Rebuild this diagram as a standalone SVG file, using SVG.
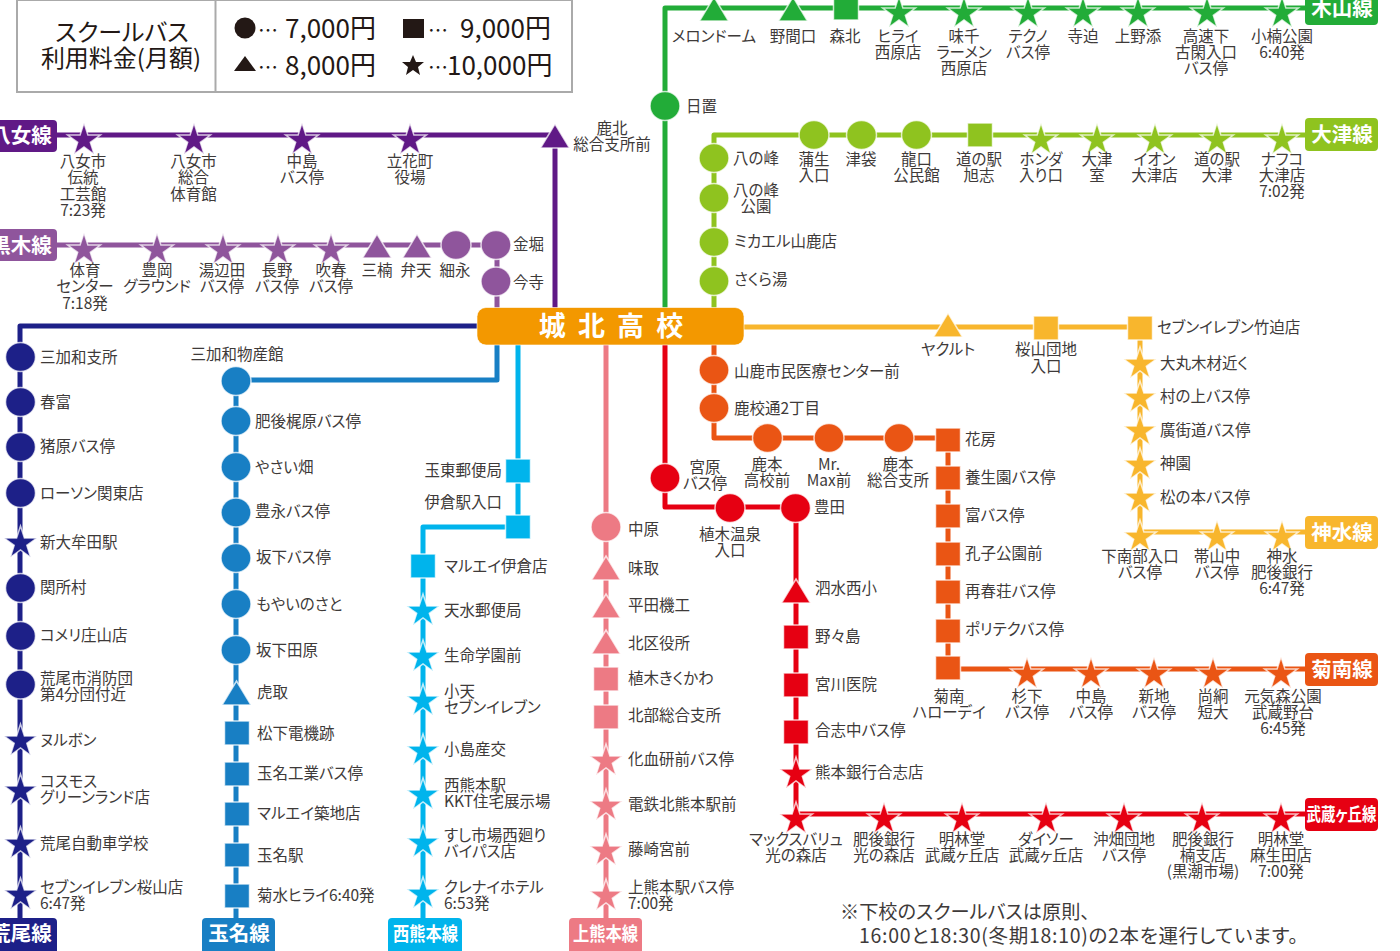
<svg xmlns="http://www.w3.org/2000/svg" width="1400" height="951" viewBox="0 0 1400 951">
<style>
text{font-family:"Noto Sans CJK JP","Noto Sans",sans-serif;font-feature-settings:"palt";}
.t,.c,.e{font-size:15.5px;fill:#3e3a39;}
.c{text-anchor:middle;}
.e{text-anchor:end;}
.k{fill:#231815;font-size:26px;}
.d{fill:#231815;font-size:20px;}
.h{fill:#231815;font-size:24px;text-anchor:middle;}
.w{fill:#fff;font-weight:700;font-size:20.5px;text-anchor:middle;}
.n{fill:#3e3a39;font-size:19.2px;}
.l{fill:none;stroke-width:5;stroke-linejoin:round;}
.m{stroke:#fff;stroke-width:1.5;stroke-opacity:.75;}
.pu{fill:#601986}.pl{fill:#8f559c}.gr{fill:#22ac38}.yg{fill:#8fc31f}.ye{fill:#f8b62d}.or{fill:#ea5514}.re{fill:#e60012}.pk{fill:#ed7a84}.cy{fill:#00b4ec}.bl{fill:#187fc4}.na{fill:#1d2088}
</style>
<defs>
<polygon id="st" class="m" points="0,-12 3.9,0 16.4,0 6.3,7.4 10.1,19.3 0,12 -10.1,19.3 -6.3,7.4 -16.4,0 -3.9,0"/>
<polygon id="tr" class="m" points="0,-11 14.5,13 -14.5,13"/>
<rect id="sq" class="m" x="-12.5" y="-12" width="25" height="24"/>
<ellipse id="ci" class="m" rx="15" ry="14.5"/>
</defs>

<g id="legend">
<rect x="17" y="0" width="555" height="92" fill="#fff" stroke="#aaa" stroke-width="2"/>
<line x1="215.500" y1="0" x2="215.500" y2="92" stroke="#aaa" stroke-width="2"/>
<text class="h" x="122" y="41">スクールバス</text>
<text class="h" x="121" y="67">利用料金(月額)</text>
<ellipse cx="245" cy="28" rx="10.500" ry="10.500" fill="#231815"/>
<text class="d" x="258" y="38">…</text>
<text class="k" x="285" y="38">7,000円</text>
<rect x="403" y="19" width="21" height="19" fill="#231815"/>
<text class="d" x="428" y="38">…</text>
<text class="k" x="460" y="38">9,000円</text>
<polygon points="245,56 256,71 234,71" fill="#231815"/>
<text class="d" x="258" y="75">…</text>
<text class="k" x="285" y="75">8,000円</text>
<polygon points="413,55 416,62 424,62 418,67 420,75 413,70 406,75 408,67 402,62 410,62" fill="#231815"/>
<text class="d" x="428" y="75">…</text>
<text class="k" x="447" y="75">10,000円</text>
</g>

<g id="connectors">
<path class="l" stroke="#601986" d="M0,135H555V310"/>
<path class="l" stroke="#8f559c" d="M0,245H497V310"/>
<path class="l" stroke="#22ac38" d="M665,310V8H1310"/>
<path class="l" stroke="#8fc31f" d="M714,310V135H1310"/>
<path class="l" stroke="#f8b62d" d="M740,327H1140V532H1310"/>
<path class="l" stroke="#ea5514" d="M714,340V438H948V669H1310"/>
<path class="l" stroke="#e60012" d="M665,340V507H796V814H1310"/>
<path class="l" stroke="#ed7a84" d="M606,340V925"/>
<path class="l" stroke="#00b4ec" d="M518,340V527H423V925"/>
<path class="l" stroke="#187fc4" d="M497,340V380H236V925"/>
<path class="l" stroke="#1d2088" d="M480,326H20V925"/>
</g>

<g id="school"><rect x="477" y="307.500" width="267" height="37.500" rx="9" fill="#f39800" stroke="#fff" stroke-opacity=".6"/><text class="w" x="612.500" y="336" style="font-size:27px;letter-spacing:3px">城 北 高 校</text></g>

<g id="line-yame"><path class="pu" d="M-5,120H53a4,4 0 0 1 4,4V148a4,4 0 0 1 -4,4H-5Z"/><text class="w" x="21" y="142.500">八女線</text></g>
<g id="line-kuroki"><path class="pl" d="M-5,229H53a4,4 0 0 1 4,4V257a4,4 0 0 1 -4,4H-5Z"/><text class="w" x="21" y="252.500">黒木線</text></g>
<g id="line-kiyama"><path class="gr" d="M1305,-8H1378V21a4,4 0 0 1 -4,4H1309a4,4 0 0 1 -4,-4Z"/><text class="w" x="1342" y="16">木山線</text></g>
<g id="line-ozu"><rect class="yg" x="1305" y="118" width="73" height="33" rx="4"/><text class="w" x="1342" y="142">大津線</text></g>
<g id="line-kamisui"><rect class="ye" x="1305" y="516" width="73" height="33" rx="4"/><text class="w" x="1342" y="540">神水線</text></g>
<g id="line-kikunan"><rect class="or" x="1305" y="653" width="73" height="33" rx="4"/><text class="w" x="1342" y="677">菊南線</text></g>
<g id="line-musashi"><rect class="re" x="1305" y="798" width="73" height="33" rx="4"/><text class="w" x="1341.500" y="821" style="font-size:18px" textLength="70" lengthAdjust="spacingAndGlyphs">武蔵ヶ丘線</text></g>
<g id="line-arao"><path class="na" d="M-5,918H53a4,4 0 0 1 4,4V951H-5Z"/><text class="w" x="21" y="941">荒尾線</text></g>
<g id="line-tamana"><path class="bl" d="M206,918H271a4,4 0 0 1 4,4V951H202V922a4,4 0 0 1 4,-4Z"/><text class="w" x="239" y="941">玉名線</text></g>
<g id="line-nishikuma"><path class="cy" d="M392,918H458a4,4 0 0 1 4,4V951H388V922a4,4 0 0 1 4,-4Z"/><text class="w" x="425.500" y="941" style="font-size:19px" textLength="65" lengthAdjust="spacingAndGlyphs">西熊本線</text></g>
<g id="line-kamikuma"><path class="pk" d="M573,918H638a4,4 0 0 1 4,4V951H569V922a4,4 0 0 1 4,-4Z"/><text class="w" x="605.500" y="941" style="font-size:19px" textLength="65" lengthAdjust="spacingAndGlyphs">上熊本線</text></g>

<g id="y1"><use class="pu" href="#st" x="84" y="135"/><text class="c" x="83" y="167">八女市<tspan x="83" dy="16">伝統</tspan><tspan x="83" dy="17">工芸館</tspan><tspan x="83" dy="16">7:23発</tspan></text></g>
<g id="y2"><use class="pu" href="#st" x="194" y="135"/><text class="c" x="193.500" y="167">八女市<tspan x="193.500" dy="16">総合</tspan><tspan x="193.500" dy="17">体育館</tspan></text></g>
<g id="y3"><use class="pu" href="#st" x="302" y="135"/><text class="c" x="302" y="167">中島<tspan x="302" dy="16">バス停</tspan></text></g>
<g id="y4"><use class="pu" href="#st" x="410" y="135"/><text class="c" x="410" y="167">立花町<tspan x="410" dy="16">役場</tspan></text></g>
<g id="y5"><use class="pu" href="#tr" x="555" y="135"/><text class="c" x="612" y="134">鹿北<tspan x="612" dy="16">総合支所前</tspan></text></g>

<g id="k1"><use class="pl" href="#st" x="84" y="245"/><text class="c" x="85" y="276">体育<tspan x="85" dy="16">センター</tspan><tspan x="85" dy="17">7:18発</tspan></text></g>
<g id="k2"><use class="pl" href="#st" x="157" y="245"/><text class="c" x="157" y="276">豊岡<tspan x="157" dy="16">グラウンド</tspan></text></g>
<g id="k3"><use class="pl" href="#st" x="223" y="245"/><text class="c" x="222" y="276">湯辺田<tspan x="222" dy="16">バス停</tspan></text></g>
<g id="k4"><use class="pl" href="#st" x="278" y="245"/><text class="c" x="277" y="276">長野<tspan x="277" dy="16">バス停</tspan></text></g>
<g id="k5"><use class="pl" href="#st" x="331" y="245"/><text class="c" x="331" y="276">吹春<tspan x="331" dy="16">バス停</tspan></text></g>
<g id="k6"><use class="pl" href="#tr" x="377" y="245"/><text class="c" x="377" y="276">三楠</text></g>
<g id="k7"><use class="pl" href="#tr" x="417" y="245"/><text class="c" x="416" y="276">弁天</text></g>
<g id="k8"><use class="pl" href="#ci" x="456" y="245"/><text class="c" x="455" y="276">細永</text></g>
<g id="k9"><use class="pl" href="#ci" x="496" y="245"/><text class="t" x="513" y="250">金堀</text></g>
<g id="k10"><use class="pl" href="#ci" x="496" y="281.500"/><text class="t" x="513" y="288">今寺</text></g>

<g id="g0"><use class="gr" href="#ci" x="665" y="106"/><text class="t" x="686" y="112">日置</text></g>
<g id="g1"><use class="gr" href="#tr" x="714" y="8"/><text class="c" x="714" y="41.500">メロンドーム</text></g>
<g id="g2"><use class="gr" href="#tr" x="793" y="8"/><text class="c" x="793" y="41.500">野間口</text></g>
<g id="g3"><use class="gr" href="#sq" x="846" y="8"/><text class="c" x="845" y="41.500">森北</text></g>
<g id="g4"><use class="gr" href="#st" x="899" y="8"/><text class="c" x="898" y="41.500">ヒライ<tspan x="898" dy="16">西原店</tspan></text></g>
<g id="g5"><use class="gr" href="#st" x="964" y="8"/><text class="c" x="964" y="41.500">味千<tspan x="964" dy="16">ラーメン</tspan><tspan x="964" dy="16">西原店</tspan></text></g>
<g id="g6"><use class="gr" href="#st" x="1028" y="8"/><text class="c" x="1028" y="41.500">テクノ<tspan x="1028" dy="16">バス停</tspan></text></g>
<g id="g7"><use class="gr" href="#st" x="1083" y="8"/><text class="c" x="1083" y="41.500">寺迫</text></g>
<g id="g8"><use class="gr" href="#st" x="1138" y="8"/><text class="c" x="1138" y="41.500">上野添</text></g>
<g id="g9"><use class="gr" href="#st" x="1207" y="8"/><text class="c" x="1206" y="41.500">高速下<tspan x="1206" dy="16">古閑入口</tspan><tspan x="1206" dy="16">バス停</tspan></text></g>
<g id="g10"><use class="gr" href="#st" x="1282" y="8"/><text class="c" x="1282" y="41.500">小楠公園<tspan x="1282" dy="16">6:40発</tspan></text></g>

<g id="o1"><use class="yg" href="#ci" x="714" y="158"/><text class="t" x="733" y="164">八の峰</text></g>
<g id="o2"><use class="yg" href="#ci" x="714" y="198"/><text class="c" x="756" y="196">八の峰<tspan x="756" dy="16">公園</tspan></text></g>
<g id="o3"><use class="yg" href="#ci" x="714" y="242"/><text class="t" x="734" y="247">ミカエル山鹿店</text></g>
<g id="o4"><use class="yg" href="#ci" x="714" y="281"/><text class="t" x="734" y="285">さくら湯</text></g>
<g id="o5"><use class="yg" href="#ci" x="814" y="135"/><text class="c" x="814" y="165">蒲生<tspan x="814" dy="16">入口</tspan></text></g>
<g id="o6"><use class="yg" href="#ci" x="861.500" y="135"/><text class="c" x="861" y="165">津袋</text></g>
<g id="o7"><use class="yg" href="#ci" x="916.500" y="135"/><text class="c" x="916.500" y="165">龍口<tspan x="916.500" dy="16">公民館</tspan></text></g>
<g id="o8"><use class="yg" href="#sq" x="980" y="135"/><text class="c" x="979" y="165">道の駅<tspan x="979" dy="16">旭志</tspan></text></g>
<g id="o9"><use class="yg" href="#st" x="1041" y="135"/><text class="c" x="1041" y="165">ホンダ<tspan x="1041" dy="16">入り口</tspan></text></g>
<g id="o10"><use class="yg" href="#st" x="1097" y="135"/><text class="c" x="1097" y="165">大津<tspan x="1097" dy="16">室</tspan></text></g>
<g id="o11"><use class="yg" href="#st" x="1155" y="135"/><text class="c" x="1154.500" y="165">イオン<tspan x="1154.500" dy="16">大津店</tspan></text></g>
<g id="o12"><use class="yg" href="#st" x="1217" y="135"/><text class="c" x="1217" y="165">道の駅<tspan x="1217" dy="16">大津</tspan></text></g>
<g id="o13"><use class="yg" href="#st" x="1282" y="135"/><text class="c" x="1282" y="165">ナフコ<tspan x="1282" dy="16">大津店</tspan><tspan x="1282" dy="16">7:02発</tspan></text></g>

<g id="s1"><use class="ye" href="#tr" x="948" y="324"/><text class="c" x="948" y="354.500">ヤクルト</text></g>
<g id="s2"><use class="ye" href="#sq" x="1046" y="328"/><text class="c" x="1046" y="355">桜山団地<tspan x="1046" dy="17">入口</tspan></text></g>
<g id="s3"><use class="ye" href="#sq" x="1140" y="328"/><text class="t" x="1157" y="332.500">セブンイレブン竹迫店</text></g>
<g id="s4"><use class="ye" href="#st" x="1140" y="359"/><text class="t" x="1160" y="369">大丸木材近く</text></g>
<g id="s5"><use class="ye" href="#st" x="1140" y="393"/><text class="t" x="1160" y="402">村の上バス停</text></g>
<g id="s6"><use class="ye" href="#st" x="1140" y="426"/><text class="t" x="1160" y="436">廣街道バス停</text></g>
<g id="s7"><use class="ye" href="#st" x="1140" y="460"/><text class="t" x="1160" y="469">神園</text></g>
<g id="s8"><use class="ye" href="#st" x="1140" y="493"/><text class="t" x="1160" y="502.500">松の本バス停</text></g>
<g id="s9"><use class="ye" href="#st" x="1140" y="532"/><text class="c" x="1140" y="561.500">下南部入口<tspan x="1140" dy="16">バス停</tspan></text></g>
<g id="s10"><use class="ye" href="#st" x="1217" y="532"/><text class="c" x="1217" y="561.500">帯山中<tspan x="1217" dy="16">バス停</tspan></text></g>
<g id="s11"><use class="ye" href="#st" x="1282" y="532"/><text class="c" x="1282" y="561.500">神水<tspan x="1282" dy="16">肥後銀行</tspan><tspan x="1282" dy="16">6:47発</tspan></text></g>

<g id="e1"><use class="or" href="#ci" x="714" y="370"/><text class="t" x="734" y="377">山鹿市民医療センター前</text></g>
<g id="e2"><use class="or" href="#ci" x="714" y="408"/><text class="t" x="734" y="414">鹿校通2丁目</text></g>
<g id="e3"><use class="or" href="#ci" x="767.500" y="438"/><text class="c" x="767" y="470">鹿本<tspan x="767" dy="16">高校前</tspan></text></g>
<g id="e4"><use class="or" href="#ci" x="829" y="438"/><text class="c" x="829" y="470">Mr.<tspan x="829" dy="16">Max前</tspan></text></g>
<g id="e5"><use class="or" href="#ci" x="899" y="438"/><text class="c" x="898" y="470">鹿本<tspan x="898" dy="16">総合支所</tspan></text></g>
<g id="e6"><use class="or" href="#sq" x="948" y="440"/><text class="t" x="965" y="444.500">花房</text></g>
<g id="e7"><use class="or" href="#sq" x="948" y="478"/><text class="t" x="965" y="482.500">養生園バス停</text></g>
<g id="e8"><use class="or" href="#sq" x="948" y="516"/><text class="t" x="965" y="520.500">富バス停</text></g>
<g id="e9"><use class="or" href="#sq" x="948" y="554"/><text class="t" x="965" y="558.500">孔子公園前</text></g>
<g id="e10"><use class="or" href="#sq" x="948" y="592"/><text class="t" x="965" y="596.500">再春荘バス停</text></g>
<g id="e11"><use class="or" href="#sq" x="948" y="631"/><text class="t" x="965" y="635">ポリテクバス停</text></g>
<g id="e12"><use class="or" href="#sq" x="948" y="668"/><text class="c" x="949" y="701.500">菊南<tspan x="949" dy="16">ハローデイ</tspan></text></g>
<g id="e13"><use class="or" href="#st" x="1027" y="669"/><text class="c" x="1027" y="701.500">杉下<tspan x="1027" dy="16">バス停</tspan></text></g>
<g id="e14"><use class="or" href="#st" x="1091" y="669"/><text class="c" x="1091" y="701.500">中島<tspan x="1091" dy="16">バス停</tspan></text></g>
<g id="e15"><use class="or" href="#st" x="1154" y="669"/><text class="c" x="1154" y="701.500">新地<tspan x="1154" dy="16">バス停</tspan></text></g>
<g id="e16"><use class="or" href="#st" x="1213" y="669"/><text class="c" x="1213" y="701.500">尚絅<tspan x="1213" dy="16">短大</tspan></text></g>
<g id="e17"><use class="or" href="#st" x="1281" y="669"/><text class="c" x="1283" y="701.500">元気森公園<tspan x="1283" dy="16">武蔵野台</tspan><tspan x="1283" dy="16">6:45発</tspan></text></g>

<g id="r1"><use class="re" href="#ci" x="665" y="478"/><text class="c" x="705" y="472.500">宮原<tspan x="705" dy="16">バス停</tspan></text></g>
<g id="r2"><use class="re" href="#ci" x="730" y="508"/><text class="c" x="730" y="540">植木温泉<tspan x="730" dy="16">入口</tspan></text></g>
<g id="r3"><use class="re" href="#ci" x="795.500" y="508"/><text class="t" x="814" y="512.500">豊田</text></g>
<g id="r4"><use class="re" href="#tr" x="796" y="590"/><text class="t" x="815" y="593.500">泗水西小</text></g>
<g id="r5"><use class="re" href="#sq" x="796" y="637"/><text class="t" x="815" y="641.500">野々島</text></g>
<g id="r6"><use class="re" href="#sq" x="796" y="685"/><text class="t" x="815" y="689.500">宮川医院</text></g>
<g id="r7"><use class="re" href="#sq" x="796" y="732"/><text class="t" x="815" y="735.500">合志中バス停</text></g>
<g id="r8"><use class="re" href="#st" x="796" y="769"/><text class="t" x="815" y="777.500">熊本銀行合志店</text></g>
<g id="r9"><use class="re" href="#st" x="796" y="814"/><text class="c" x="796" y="844.500">マックスバリュ<tspan x="796" dy="16">光の森店</tspan></text></g>
<g id="r10"><use class="re" href="#st" x="884" y="814"/><text class="c" x="884" y="844.500">肥後銀行<tspan x="884" dy="16">光の森店</tspan></text></g>
<g id="r11"><use class="re" href="#st" x="962" y="814"/><text class="c" x="962" y="844.500">明林堂<tspan x="962" dy="16">武蔵ヶ丘店</tspan></text></g>
<g id="r12"><use class="re" href="#st" x="1046" y="814"/><text class="c" x="1046" y="844.500">ダイソー<tspan x="1046" dy="16">武蔵ヶ丘店</tspan></text></g>
<g id="r13"><use class="re" href="#st" x="1124" y="814"/><text class="c" x="1124" y="844.500">沖畑団地<tspan x="1124" dy="16">バス停</tspan></text></g>
<g id="r14"><use class="re" href="#st" x="1202" y="814"/><text class="c" x="1203" y="844.500">肥後銀行<tspan x="1203" dy="16">楠支店</tspan><tspan x="1203" dy="16">(黒潮市場)</tspan></text></g>
<g id="r15"><use class="re" href="#st" x="1281" y="814"/><text class="c" x="1281" y="844.500">明林堂<tspan x="1281" dy="16">麻生田店</tspan><tspan x="1281" dy="16">7:00発</tspan></text></g>

<g id="p1"><use class="pk" href="#ci" x="606" y="527"/><text class="t" x="628" y="535">中原</text></g>
<g id="p2"><use class="pk" href="#tr" x="606" y="567"/><text class="t" x="628" y="574">味取</text></g>
<g id="p3"><use class="pk" href="#tr" x="606" y="605"/><text class="t" x="628" y="610.500">平田機工</text></g>
<g id="p4"><use class="pk" href="#tr" x="606" y="641"/><text class="t" x="628" y="649">北区役所</text></g>
<g id="p5"><use class="pk" href="#sq" x="606" y="679"/><text class="t" x="628" y="684">植木きくかわ</text></g>
<g id="p6"><use class="pk" href="#sq" x="606" y="717"/><text class="t" x="628" y="721">北部総合支所</text></g>
<g id="p7"><use class="pk" href="#st" x="606" y="756"/><text class="t" x="628" y="765">化血研前バス停</text></g>
<g id="p8"><use class="pk" href="#st" x="606" y="801"/><text class="t" x="628" y="810">電鉄北熊本駅前</text></g>
<g id="p9"><use class="pk" href="#st" x="606" y="846"/><text class="t" x="628" y="854.500">藤崎宮前</text></g>
<g id="p10"><use class="pk" href="#st" x="606" y="891"/><text class="t" x="628" y="892.500">上熊本駅バス停<tspan x="628" dy="16">7:00発</tspan></text></g>

<g id="c1"><use class="cy" href="#sq" x="518" y="471"/><text class="e" x="502" y="476">玉東郵便局</text></g>
<g id="c2"><use class="cy" href="#sq" x="518" y="527"/><text class="e" x="502" y="508">伊倉駅入口</text></g>
<g id="c3"><use class="cy" href="#sq" x="423" y="566"/><text class="t" x="444" y="571.500">マルエイ伊倉店</text></g>
<g id="c4"><use class="cy" href="#st" x="423" y="606"/><text class="t" x="444" y="615.500">天水郵便局</text></g>
<g id="c5"><use class="cy" href="#st" x="423" y="652"/><text class="t" x="444" y="660.500">生命学園前</text></g>
<g id="c6"><use class="cy" href="#st" x="423" y="696"/><text class="t" x="444" y="697">小天<tspan x="444" dy="16">セブンイレブン</tspan></text></g>
<g id="c7"><use class="cy" href="#st" x="423" y="746"/><text class="t" x="444" y="754.500">小島産交</text></g>
<g id="c8"><use class="cy" href="#st" x="423" y="790"/><text class="t" x="444" y="790.500">西熊本駅<tspan x="444" dy="16">KKT住宅展示場</tspan></text></g>
<g id="c9"><use class="cy" href="#st" x="423" y="838"/><text class="t" x="444" y="841">すし市場西廻り<tspan x="444" dy="16">バイパス店</tspan></text></g>
<g id="c10"><use class="cy" href="#st" x="423" y="889"/><text class="t" x="444" y="892.500">クレナイホテル<tspan x="444" dy="16">6:53発</tspan></text></g>

<g id="b1"><use class="bl" href="#ci" x="236" y="381"/><text class="c" x="237" y="360">三加和物産館</text></g>
<g id="b2"><use class="bl" href="#ci" x="236" y="421"/><text class="t" x="255" y="427">肥後梶原バス停</text></g>
<g id="b3"><use class="bl" href="#ci" x="236" y="467"/><text class="t" x="255" y="472.500">やさい畑</text></g>
<g id="b4"><use class="bl" href="#ci" x="236" y="512.500"/><text class="t" x="255" y="516.500">豊永バス停</text></g>
<g id="b5"><use class="bl" href="#ci" x="236" y="558"/><text class="t" x="256" y="562.500">坂下バス停</text></g>
<g id="b6"><use class="bl" href="#ci" x="236" y="604"/><text class="t" x="256" y="609.500">もやいのさと</text></g>
<g id="b7"><use class="bl" href="#ci" x="236" y="650"/><text class="t" x="256" y="655.500">坂下田原</text></g>
<g id="b8"><use class="bl" href="#tr" x="236.500" y="692"/><text class="t" x="257" y="697.500">虎取</text></g>
<g id="b9"><use class="bl" href="#sq" x="237" y="733"/><text class="t" x="257" y="738.500">松下電機跡</text></g>
<g id="b10"><use class="bl" href="#sq" x="237" y="774"/><text class="t" x="257" y="778.500">玉名工業バス停</text></g>
<g id="b11"><use class="bl" href="#sq" x="237" y="814"/><text class="t" x="257" y="819">マルエイ築地店</text></g>
<g id="b12"><use class="bl" href="#sq" x="237" y="855"/><text class="t" x="257" y="860.500">玉名駅</text></g>
<g id="b13"><use class="bl" href="#sq" x="237" y="896"/><text class="t" x="257" y="901">菊水ヒライ6:40発</text></g>

<g id="a1"><use class="na" href="#ci" x="20.500" y="357"/><text class="t" x="40" y="362.500">三加和支所</text></g>
<g id="a2"><use class="na" href="#ci" x="20.500" y="402"/><text class="t" x="40" y="407.500">春富</text></g>
<g id="a3"><use class="na" href="#ci" x="20.500" y="447"/><text class="t" x="40" y="452">猪原バス停</text></g>
<g id="a4"><use class="na" href="#ci" x="20.500" y="493"/><text class="t" x="40" y="498.500">ローソン関東店</text></g>
<g id="a5"><use class="na" href="#st" x="20.500" y="538"/><text class="t" x="40" y="547.500">新大牟田駅</text></g>
<g id="a6"><use class="na" href="#ci" x="20.500" y="588"/><text class="t" x="40" y="593">関所村</text></g>
<g id="a7"><use class="na" href="#ci" x="20.500" y="636"/><text class="t" x="40" y="640.500">コメリ庄山店</text></g>
<g id="a8"><use class="na" href="#ci" x="20.500" y="684.500"/><text class="t" x="40" y="684">荒尾市消防団<tspan x="40" dy="15.500">第4分団付近</tspan></text></g>
<g id="a9"><use class="na" href="#st" x="20.500" y="736"/><text class="t" x="40" y="745.500">ヌルボン</text></g>
<g id="a10"><use class="na" href="#st" x="20.500" y="786"/><text class="t" x="40" y="787">コスモス<tspan x="40" dy="16">グリーンランド店</tspan></text></g>
<g id="a11"><use class="na" href="#st" x="20.500" y="839"/><text class="t" x="40" y="849">荒尾自動車学校</text></g>
<g id="a12"><use class="na" href="#st" x="20.500" y="890"/><text class="t" x="40" y="892.500">セブンイレブン桜山店<tspan x="40" dy="16">6:47発</tspan></text></g>

<g id="note">
<text class="n" x="840" y="919">※下校のスクールバスは原則、</text>
<text class="n" x="859" y="943" style="font-size:19.500px;letter-spacing:.7px">16:00と18:30(冬期18:10)の2本を運行しています。</text>
</g>
</svg>
